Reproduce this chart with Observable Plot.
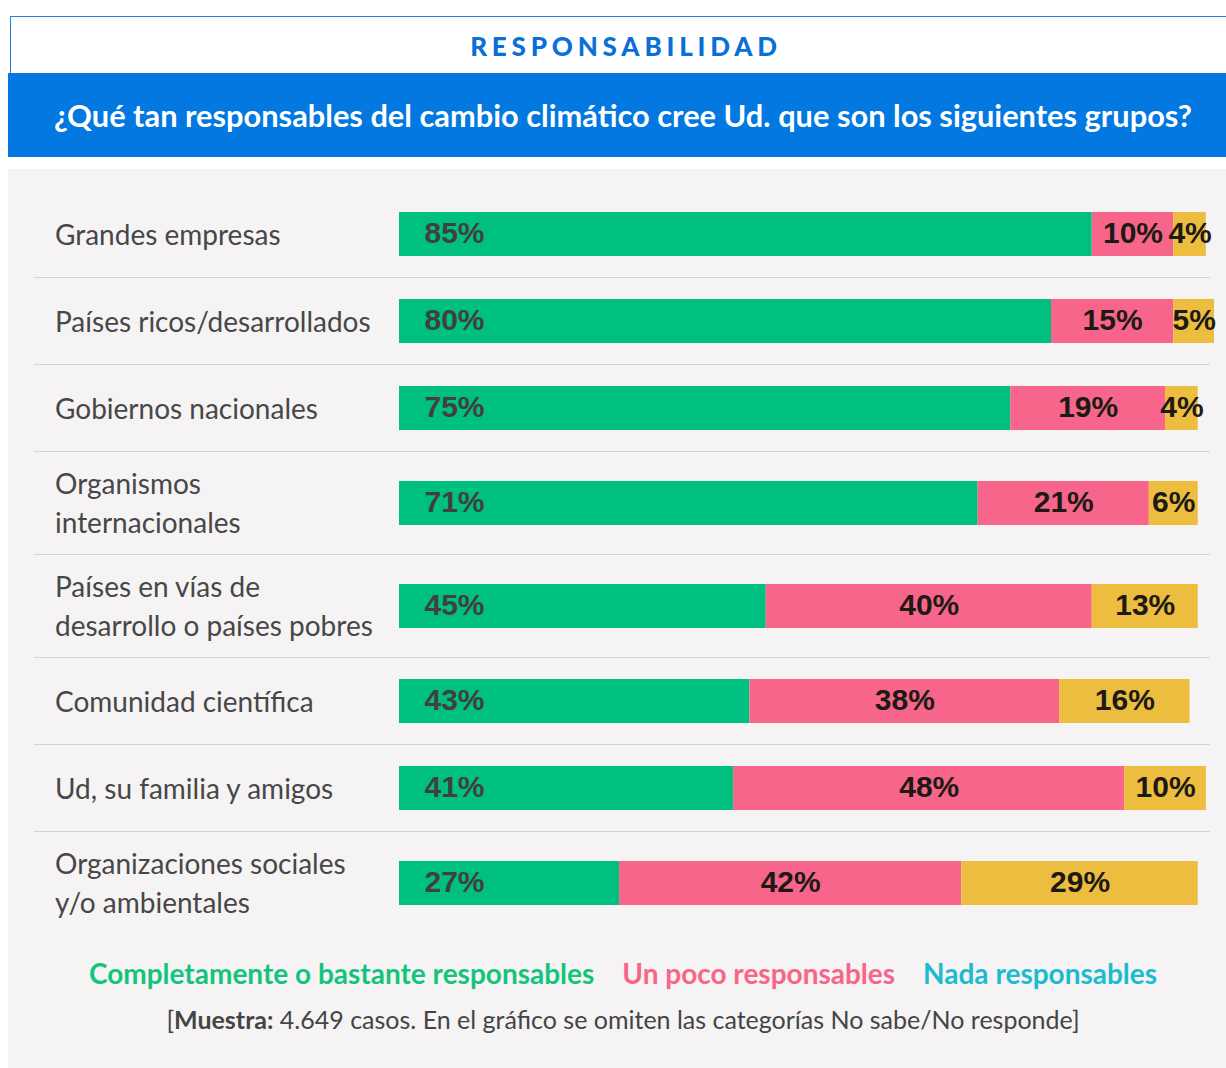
<!DOCTYPE html>
<html><head><meta charset="utf-8">
<script src="https://cdn.jsdelivr.net/npm/d3@7"></script>
<script src="https://cdn.jsdelivr.net/npm/@observablehq/plot@0.6"></script>
<style>
html,body{margin:0;padding:0;background:#fff;width:1226px;height:1068px;overflow:hidden;font-family:Lato,"Noto Sans",sans-serif;}
#kicker{position:absolute;left:10px;top:16px;width:1227px;height:58px;box-sizing:border-box;border:1px solid #2a7fd9;background:#fff;
  display:flex;align-items:center;justify-content:center;color:#0a6fd8;font-weight:900;font-size:26px;letter-spacing:4.8px;padding-left:5px;padding-top:1px;}
#band{position:absolute;left:8px;top:73px;width:1230px;height:84px;background:#0278e0;color:#fff;display:flex;align-items:center;justify-content:center;
  font-size:30.8px;font-weight:700;}
#panel{position:absolute;left:8px;top:169px;width:1230px;height:900px;background:#f5f3f4;}
#rows{position:absolute;left:34px;top:191px;width:1176px;}
.row{display:flex;align-items:center;min-height:86px;border-bottom:1.5px solid #d4d2d3;}
.row:last-child{border-bottom:none;}
.lab{width:344px;padding:12px 0 12px 21px;line-height:39px;font-size:28px;color:#474747;flex:none;}
.chart{flex:none;margin-left:0px;line-height:0;}
#legend{position:absolute;left:8px;top:954px;width:1230px;text-align:center;font-size:28px;font-weight:700;line-height:38px;}
#legend span{margin:0 14px;}
#caption{position:absolute;left:8px;top:1002px;width:1230px;text-align:center;font-size:25px;color:#444;line-height:34px;}
</style></head>
<body>
<div id="kicker">RESPONSABILIDAD</div>
<div id="band">¿Qué tan responsables del cambio climático cree Ud. que son los siguientes grupos?</div>
<div id="panel"></div>
<div id="rows"></div>
<div id="legend"></div>
<div id="caption">[<b>Muestra:</b> 4.649 casos. En el gráfico se omiten las categorías No sabe/No responde]</div>
<script>
const grupos = [
  "Grandes empresas",
  "Países ricos/desarrollados",
  "Gobiernos nacionales",
  "Organismos\ninternacionales",
  "Países en vías de\ndesarrollo o países pobres",
  "Comunidad científica",
  "Ud, su familia y amigos",
  "Organizaciones sociales\ny/o ambientales"
];
const completamente = [85, 80, 75, 71, 45, 43, 41, 27];
const unPoco = [10, 15, 19, 21, 40, 38, 48, 42];
const nada = [4, 5, 4, 6, 13, 16, 10, 29];
const series = ["Completamente o bastante responsables", "Un poco responsables", "Nada responsables"];
const barColors = ["#00c07f", "#f7668a", "#edbd3f"];
const legendColors = ["#14c47e", "#f7668a", "#1bbccf"];

const table = grupos.flatMap((g, i) => [
  {grupo: g, serie: series[0], valor: completamente[i]},
  {grupo: g, serie: series[1], valor: unPoco[i]},
  {grupo: g, serie: series[2], valor: nada[i]}
]);

const rowsEl = document.getElementById("rows");
for (const g of grupos) {
  const row = document.createElement("div");
  row.className = "row";
  const lab = document.createElement("div");
  lab.className = "lab";
  lab.innerHTML = g.split("\n").join("<br>");
  row.appendChild(lab);
  const d = table.filter(r => r.grupo === g);
  const chart = Plot.plot({
    width: 827, height: 44,
    marginTop: 0, marginBottom: 0, marginLeft: 0, marginRight: 12,
    x: {domain: [0, 100], axis: null},
    color: {domain: series, range: barColors},
    style: {background: "transparent", overflow: "visible", fontFamily: "'Liberation Sans', Arial, sans-serif"},
    marks: [
      Plot.barX(d, Plot.stackX({x: "valor", fill: "serie", order: null})),
      Plot.text(d, Plot.stackX1({x: "valor", order: null,
        text: r => r.serie === series[0] ? `${r.valor}%` : null,
        textAnchor: "start", dx: 25, dy: -1, fill: "#404040", fontSize: 30, fontWeight: "bold"})),
      Plot.text(d, Plot.stackX({x: "valor", order: null,
        text: r => r.serie === series[0] ? null : `${r.valor}%`,
        dy: -1, fill: "#1d1a15", fontSize: 30, fontWeight: "bold"}))
    ]
  });
  const wrap = document.createElement("div");
  wrap.className = "chart";
  wrap.appendChild(chart);
  row.appendChild(wrap);
  rowsEl.appendChild(row);
}

const legend = document.getElementById("legend");
series.forEach((s, i) => {
  const sp = document.createElement("span");
  sp.textContent = s;
  sp.style.color = legendColors[i];
  legend.appendChild(sp);
});
</script>
</body></html>
